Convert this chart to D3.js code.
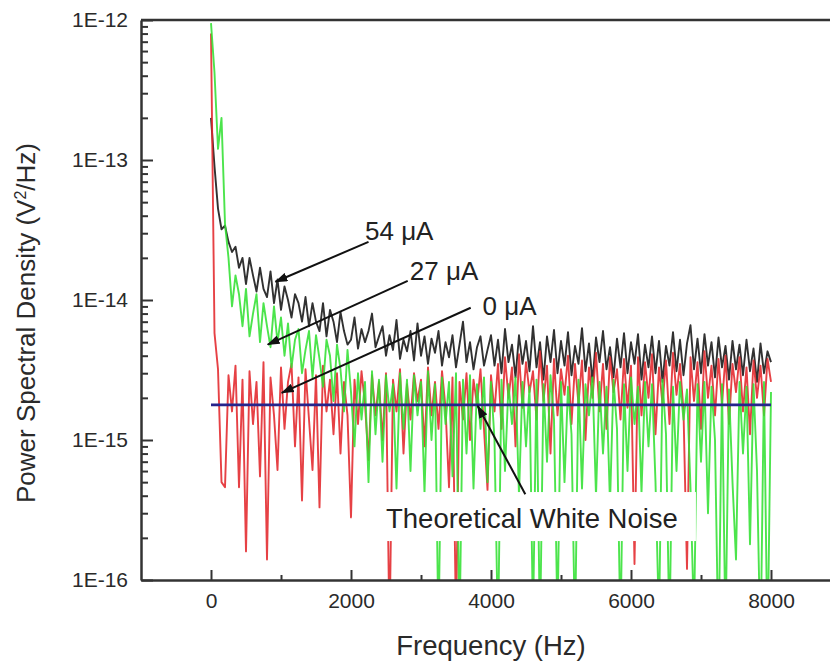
<!DOCTYPE html>
<html>
<head>
<meta charset="utf-8">
<script src="https://cdn.jsdelivr.net/npm/d3@7"></script>
<style>
  body { margin: 0; background: #fff; }
  svg text { font-family: "Liberation Sans", Arial, sans-serif; }
</style>
</head>
<body>
<svg id="chart" width="830" height="666"></svg>
<script>
// frequency grid of the spectra (Hz)
var freqHz = [
  0,50,100,150,200,250,300,350,400,450,
  500,550,600,650,700,750,800,850,900,950,
  1000,1050,1100,1150,1200,1250,1300,1350,1400,1450,
  1500,1550,1600,1650,1700,1750,1800,1850,1900,1950,
  2000,2050,2100,2150,2200,2250,2300,2350,2400,2450,
  2500,2550,2600,2650,2700,2750,2800,2850,2900,2950,
  3000,3050,3100,3150,3200,3250,3300,3350,3400,3450,
  3500,3550,3600,3650,3700,3750,3800,3850,3900,3950,
  4000,4050,4100,4150,4200,4250,4300,4350,4400,4450,
  4500,4550,4600,4650,4700,4750,4800,4850,4900,4950,
  5000,5050,5100,5150,5200,5250,5300,5350,5400,5450,
  5500,5550,5600,5650,5700,5750,5800,5850,5900,5950,
  6000,6050,6100,6150,6200,6250,6300,6350,6400,6450,
  6500,6550,6600,6650,6700,6750,6800,6850,6900,6950,
  7000,7050,7100,7150,7200,7250,7300,7350,7400,7450,
  7500,7550,7600,7650,7700,7750,7800,7850,7900,7950,
  8000
];

// psd values, in units of 1e-15 V^2/Hz
var psdUnit = 1e-15;

// 54 uA (black)
var psd54 = [
  200,90,45,32,34,26,22,24,17,20,
  13,20,15,11.5,17,12,10.5,16,9.5,14,
  8.5,12.5,10,7.5,11,9.5,7,10.5,6.5,9.5,
  7,6,9.5,5.5,8.5,7,5,8.2,6,4.8,
  5.2,7.5,4.5,6.2,5,6,8,4.6,5.5,6.5,
  4,5.6,4.4,7.2,3.8,5.2,4.3,6,3.7,6.8,
  4,5.5,3.5,5.3,4.2,6,3.4,5,3.9,5.6,
  3.3,4.8,7,3.6,5,3.2,4.6,5.5,3.4,4.4,
  5.6,3.4,5.2,3,6.2,3.6,4.8,2.8,5.6,3.5,
  5.1,3.1,6.5,3.3,5,2.7,5.5,3.6,6.1,3,
  5.1,3.4,5.9,2.9,4.7,3.5,6.3,3.1,4.9,2.6,
  5.4,3.6,6,3.2,4.6,2.8,5.3,3.3,5.8,3,
  5,3.5,5.7,2.7,4.8,3.3,5.5,3,5.1,2.6,
  4.7,3.4,5.9,3.1,5.2,2.9,4.9,6.6,3.2,5.3,
  3,5.7,3.4,5,2.8,5.4,3.3,4.7,2.7,5.1,
  3.2,4.8,2.9,5.2,3.1,4.5,2.6,4.9,3,4.3,
  3.6
];

// 27 uA (green)
var psd27 = [
  950,420,120,200,35,20,9,15,11,6.5,
  12,5.5,8,11,5,9.5,6.5,4.6,9,5,
  7.5,4,6.8,3.3,5.2,6.2,3,4.4,6,2.8,
  5.6,3.8,2.4,5.2,4,1.9,4.8,3.2,1.6,4.4,
  2.2,0.9,3,1.4,2.6,0.5,3.1,1.1,2.7,0.7,
  2.9,1.6,2.5,0.45,3,1.2,2.7,0.6,2.9,1.5,
  2.6,0.42,3.1,1,2.5,0.04,2.8,1.3,2.6,0.55,
  3,0.04,2.7,0.8,2.9,0.45,2.5,1.2,2.8,0.5,
  2.6,1,0.04,2.7,0.6,2.5,1.3,2.8,0.4,2.6,
  0.9,2.4,0.05,2.7,0.04,2.5,0.7,2.9,1.4,0.05,
  2.6,0.5,2.4,1.1,0.04,2.7,0.45,2.5,1.5,2.8,
  0.4,2.6,0.8,2.4,0.35,2.7,1.2,0.04,2.5,0.6,
  2.8,1.3,2.4,0.42,2.6,0.9,2.5,0.5,0.05,2.7,
  1.1,0.04,2.4,0.6,2.6,1.4,2.3,0.45,0.05,2.5,
  0.7,2.6,0.3,2.4,1,0.03,2.5,0.04,2.3,0.5,
  0.14,2.6,0.8,2.4,0.18,2.5,0.6,0.03,2.6,0.03,
  2.2
];

// 0 uA (red)
var psd0 = [
  800,5.8,3.2,0.5,0.46,2.9,1.6,3.4,0.46,2.7,
  0.16,3.1,1.3,2.6,0.55,3.6,0.14,2.8,1.5,0.61,
  3.3,1.2,2.6,3.5,0.9,2.8,0.37,3.2,1.4,0.61,
  2.9,0.33,3.4,1.6,2.7,1.1,3,0.8,2.6,1.5,
  0.28,2.7,1.3,3.1,1.8,0.72,2.9,1.5,2.6,1,
  3,0.04,2.7,1.6,3.2,0.8,2.5,1.4,3,1.9,
  2.7,0.9,3.3,1.5,2.6,1.2,3.1,1.7,0.46,2.8,
  0.05,2.6,1.4,3,1,2.7,1.8,3.2,1.2,0.44,
  2.9,1.6,3.5,1.2,3.9,2,3.3,0.9,4.1,1.7,
  3.6,2.2,3.1,1.4,4.3,1.9,3.4,0.8,3.8,1.5,
  3.2,2.1,4,1.3,3.5,1.8,3.7,1,3.3,2,
  4.2,1.6,3.5,1.2,3.9,2.2,3.2,1.4,3.8,1.7,
  3.4,0.13,3.9,1.5,3.6,2,4.1,1.1,3.3,1.8,
  3.7,1.3,4.2,2.1,3.5,1.6,0.12,3.9,1.9,3.6,
  1.2,4.3,2,3.4,1.5,3.8,1.8,4,1.3,3.5,
  2.2,3.9,1.6,3.3,1.1,3.7,2,3.4,1.5,3.8,
  2.6
];

// theoretical white noise level (1e-15 V^2/Hz) and its span (Hz)
var whiteNoise = 1.78;
var whiteNoiseSpan = [0, 8000];

// axis ticks
var yTicks = [1e-16, 1e-15, 1e-14, 1e-13, 1e-12];
var xTicks = [0, 2000, 4000, 6000, 8000];
var xMinorTicks = [1000, 3000, 5000, 7000];

// annotations, in data coordinates [Hz, V^2/Hz]
var notes = [
  {text: "54 \u03bcA", size: 26, at: [2200, 2.7e-14], from: [2250, 2.6e-14], to: [920, 1.35e-14]},
  {text: "27 \u03bcA", size: 26, at: [2840, 1.39e-14], from: [2810, 1.37e-14], to: [810, 4.8e-15]},
  {text: "0 \u03bcA", size: 26, at: [3880, 7.8e-15], from: [3710, 8.8e-15], to: [1010, 2.17e-15]},
  {text: "Theoretical White Noise", size: 27.5, at: [2500, 2.35e-16], from: [4490, 4.1e-16], to: [3810, 1.75e-15], boxed: true}
];

(function() {
  var svg = d3.select("#chart");
  var plotLeft = 141, plotRight = 841, plotTop = 20, plotBottom = 580;

  var x = d3.scaleLinear().domain([-1000, 9000]).range([plotLeft, plotRight]);
  var y = d3.scaleLog().domain([1e-16, 1e-12]).range([plotBottom, plotTop]);

  svg.append("rect").attr("width", 830).attr("height", 666).attr("fill", "#fff");

  var defs = svg.append("defs");
  defs.append("clipPath").attr("id", "plot-clip")
    .append("rect").attr("x", plotLeft).attr("y", plotTop)
    .attr("width", plotRight - plotLeft).attr("height", plotBottom - plotTop);
  defs.append("marker")
    .attr("id", "arrow")
    .attr("viewBox", "0 0 13 9")
    .attr("refX", 12).attr("refY", 4.5)
    .attr("markerWidth", 13).attr("markerHeight", 9)
    .attr("markerUnits", "userSpaceOnUse")
    .attr("orient", "auto")
    .append("path").attr("d", "M0,0L13,4.5L0,9Z").attr("fill", "#111");

  // spectra: black first, then red, green on top
  var series = [
    {name: "54 uA", values: psd54, color: "#1b1b1b", opacity: 0.9},
    {name: "0 uA", values: psd0, color: "#e2272b", opacity: 0.88},
    {name: "27 uA", values: psd27, color: "#33e033", opacity: 0.88}
  ];

  var line = d3.line()
    .x(function(d, i) { return x(freqHz[i]); })
    .y(function(d) { return y(d * psdUnit); });

  var plot = svg.append("g").attr("clip-path", "url(#plot-clip)");
  plot.selectAll("path.psd")
    .data(series)
    .enter()
    .append("path")
    .attr("class", "psd")
    .attr("d", function(d) { return line(d.values); })
    .attr("fill", "none")
    .attr("stroke", function(d) { return d.color; })
    .attr("stroke-opacity", function(d) { return d.opacity; })
    .attr("stroke-width", 1.9)
    .attr("stroke-linejoin", "round");

  // white noise level
  plot.append("line")
    .attr("x1", x(whiteNoiseSpan[0])).attr("x2", x(whiteNoiseSpan[1]))
    .attr("y1", y(whiteNoise * psdUnit)).attr("y2", y(whiteNoise * psdUnit))
    .attr("stroke", "#26248c").attr("stroke-width", 2.8);

  // axes
  function styleAxis(g) {
    g.select(".domain").attr("stroke", "#333").attr("stroke-width", 2.5);
    g.selectAll(".tick line").attr("stroke", "#333").attr("stroke-width", 2);
    g.selectAll(".tick text").attr("fill", "#2a2a2a").attr("font-size", 21)
      .attr("font-family", "'Liberation Sans', Arial, sans-serif");
  }
  function styleMinor(g) {
    g.select(".domain").remove();
    g.selectAll("line").attr("stroke", "#333").attr("stroke-width", 2);
  }

  var yMinor = y.ticks().filter(function(t) {
    return yTicks.every(function(m) { return Math.abs(m - t) / m > 1e-6; });
  });

  svg.append("g").attr("transform", "translate(" + plotLeft + ",0)")
    .call(d3.axisLeft(y).tickValues(yMinor).tickSize(-7).tickSizeOuter(0).tickFormat(""))
    .call(styleMinor);

  svg.append("g").attr("transform", "translate(" + plotLeft + ",0)")
    .call(d3.axisLeft(y).tickValues(yTicks).tickSize(-12).tickSizeOuter(0).tickPadding(13)
      .tickFormat(function(d) { return "1E" + Math.round(Math.log10(d)); }))
    .call(styleAxis);

  svg.append("g").attr("transform", "translate(0," + plotBottom + ")")
    .call(d3.axisBottom(x).tickValues(xMinorTicks).tickSize(-5).tickSizeOuter(0).tickFormat(""))
    .call(styleMinor);

  svg.append("g").attr("transform", "translate(0," + plotBottom + ")")
    .call(d3.axisBottom(x).tickValues(xTicks).tickSize(-10).tickSizeOuter(0).tickPadding(13)
      .tickFormat(d3.format("d")))
    .call(styleAxis);

  // top frame line
  svg.append("line")
    .attr("x1", plotLeft).attr("x2", plotRight).attr("y1", plotTop).attr("y2", plotTop)
    .attr("stroke", "#333").attr("stroke-width", 2.5);

  // axis titles
  var yTitle = svg.append("text")
    .attr("transform", "translate(35,503) rotate(-90)")
    .attr("font-size", 26).attr("fill", "#2a2a2a");
  yTitle.append("tspan").text("Power Spectral Density (V");
  yTitle.append("tspan").attr("dy", -9).attr("font-size", 16).text("2");
  yTitle.append("tspan").attr("dy", 9).text("/Hz)");

  svg.append("text")
    .attr("x", (plotLeft + plotRight) / 2).attr("y", 655)
    .attr("text-anchor", "middle")
    .attr("font-size", 27.5).attr("fill", "#2a2a2a")
    .text("Frequency (Hz)");

  // annotations
  var ann = svg.append("g");
  notes.forEach(function(n) {
    var t = ann.append("text")
      .attr("x", x(n.at[0])).attr("y", y(n.at[1]))
      .attr("font-size", n.size).attr("fill", "#222")
      .text(n.text);
    if (n.boxed) {
      var b = t.node().getBBox();
      ann.insert("rect", "text")
        .attr("x", b.x - 4).attr("y", b.y - 11)
        .attr("width", b.width + 22).attr("height", b.height + 18)
        .attr("fill", "#fff");
    }
    ann.append("line")
      .attr("x1", x(n.from[0])).attr("y1", y(n.from[1]))
      .attr("x2", x(n.to[0])).attr("y2", y(n.to[1]))
      .attr("stroke", "#111").attr("stroke-width", 2)
      .attr("marker-end", "url(#arrow)");
  });
})();
</script>
